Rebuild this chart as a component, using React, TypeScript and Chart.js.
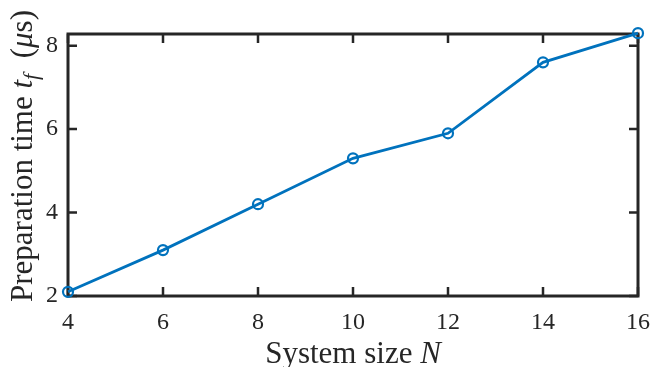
import React, { useEffect, useRef } from "react";
import { Chart, registerables } from "chart.js";

Chart.register(...registerables);

const systemSizes = [4, 6, 8, 10, 12, 14, 16];
const prepTimes = [2.1, 3.1, 4.2, 5.3, 5.9, 7.6, 8.3];
const xTicks = [4, 6, 8, 10, 12, 14, 16];
const yTicks = [2, 4, 6, 8];

const FONT = "'Liberation Serif', serif";
const AXIS_COLOR = "#262626";
const LINE_COLOR = "#0072BD";

const boxPlugin = {
  id: "matlabBox",
  beforeDatasetsDraw(chart: any) {
    const { ctx, chartArea } = chart;
    const xs = chart.scales.x;
    const ys = chart.scales.y;
    const { left, right, top, bottom } = chartArea;
    ctx.save();
    ctx.strokeStyle = AXIS_COLOR;
    ctx.lineWidth = 2.5;
    const tl = 9;
    ctx.beginPath();
    for (const v of xTicks) {
      const px = xs.getPixelForValue(v);
      ctx.moveTo(px, bottom);
      ctx.lineTo(px, bottom - tl);
      ctx.moveTo(px, top);
      ctx.lineTo(px, top + tl);
    }
    for (const v of yTicks) {
      const py = ys.getPixelForValue(v);
      ctx.moveTo(left, py);
      ctx.lineTo(left + tl, py);
      ctx.moveTo(right, py);
      ctx.lineTo(right - tl, py);
    }
    ctx.stroke();
    ctx.lineWidth = 3;
    ctx.strokeRect(left, top, right - left, bottom - top);
    ctx.restore();
  },
  afterDraw(chart: any) {
    const { ctx, chartArea } = chart;
    ctx.save();
    ctx.fillStyle = AXIS_COLOR;
    ctx.textBaseline = "alphabetic";
    const size = 31;
    const drawSegs = (segs: { t: string; italic?: boolean; sub?: boolean }[]) => {
      const fontOf = (s: any) =>
        `${s.italic ? "italic " : ""}${s.sub ? Math.round(size * 0.7) : size}px ${FONT}`;
      let total = 0;
      for (const s of segs) {
        ctx.font = fontOf(s);
        total += ctx.measureText(s.t).width;
      }
      return {
        total,
        draw(x0: number, y0: number) {
          let x = x0;
          for (const s of segs) {
            ctx.font = fontOf(s);
            ctx.fillText(s.t, x, y0 + (s.sub ? 6 : 0));
            x += ctx.measureText(s.t).width;
          }
        },
      };
    };
    // x label
    const xl = drawSegs([{ t: "System size " }, { t: "N", italic: true }]);
    const cx = (chartArea.left + chartArea.right) / 2;
    xl.draw(cx - xl.total / 2, 363);
    // y label
    const yl = drawSegs([
      { t: "Preparation time " },
      { t: "t", italic: true },
      { t: "f", italic: true, sub: true },
      { t: "  (" },
      { t: "μ", italic: true },
      { t: "s)" },
    ]);
    ctx.translate(32, 156);
    ctx.rotate(-Math.PI / 2);
    yl.draw(-yl.total / 2, 0);
    ctx.restore();
  },
};

export default function App() {
  const ref = useRef<HTMLCanvasElement | null>(null);
  useEffect(() => {
    document.body.style.margin = "0";
    if (!ref.current) return;
    const chart = new Chart(ref.current, {
      type: "line",
      data: {
        datasets: [
          {
            data: systemSizes.map((x, i) => ({ x, y: prepTimes[i] })),
            borderColor: LINE_COLOR,
            borderWidth: 2.8,
            pointRadius: 5,
            pointBorderWidth: 2.2,
            pointBorderColor: LINE_COLOR,
            pointBackgroundColor: "rgba(0,0,0,0)",
            tension: 0,
            clip: false as any,
          },
        ],
      },
      options: {
        responsive: false,
        animation: false,
        events: [],
        layout: { padding: { top: 34, right: 12, left: 0, bottom: 0 } },
        plugins: { legend: { display: false }, tooltip: { enabled: false } },
        scales: {
          x: {
            type: "linear",
            min: 4,
            max: 16,
            grid: { display: false, drawTicks: false },
            border: { display: false },
            afterBuildTicks: (s: any) => {
              s.ticks = xTicks.map((v) => ({ value: v }));
            },
            afterFit: (s: any) => {
              s.height = 71;
              s.paddingLeft = 0;
              s.paddingRight = 0;
            },
            ticks: {
              padding: 12,
              color: AXIS_COLOR,
              font: { family: FONT, size: 24 },
              maxRotation: 0,
              autoSkip: false,
            },
          },
          y: {
            type: "linear",
            min: 2,
            max: 8.28,
            grid: { display: false, drawTicks: false },
            border: { display: false },
            afterBuildTicks: (s: any) => {
              s.ticks = yTicks.map((v) => ({ value: v }));
            },
            afterFit: (s: any) => {
              s.width = 68;
              s.paddingTop = 0;
              s.paddingBottom = 0;
            },
            ticks: {
              padding: 10,
              color: AXIS_COLOR,
              font: { family: FONT, size: 24 },
              autoSkip: false,
            },
          },
        },
      },
      plugins: [boxPlugin],
    });
    return () => chart.destroy();
  }, []);
  return (
    <div style={{ width: 650, height: 367, background: "#fff" }}>
      <canvas ref={ref} width={650} height={367} style={{ display: "block" }} />
    </div>
  );
}
